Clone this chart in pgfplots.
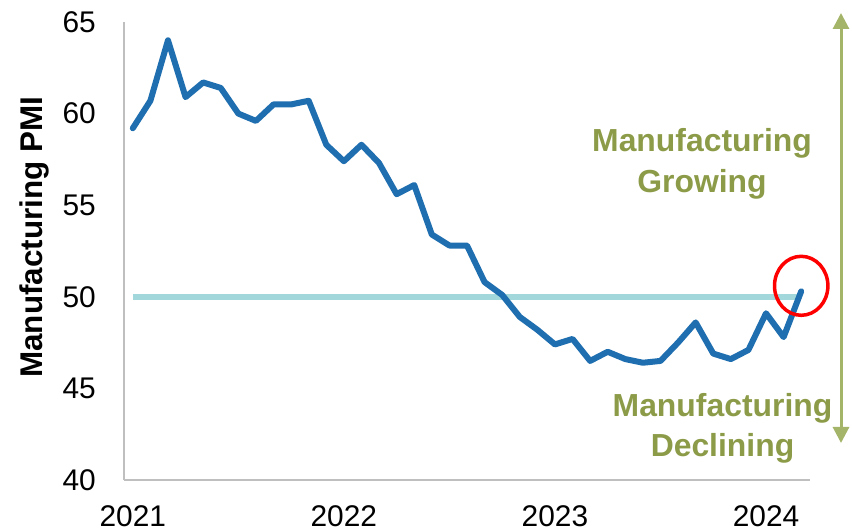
\documentclass[border=0pt]{standalone}
\usepackage{fontspec}
\setmainfont{Liberation Sans}
\usepackage{pgfplots}
\pgfplotsset{compat=1.18}
\usetikzlibrary{arrows.meta}

\definecolor{pmiblue}{RGB}{30,110,176}
\definecolor{reflinecol}{RGB}{162,216,219}
\definecolor{axisgray}{RGB}{191,191,191}
\definecolor{arrowgreen}{RGB}{164,181,105}
\definecolor{textgreen}{RGB}{139,155,72}

% monthly ISM manufacturing PMI, Jan 2021 = 0
\pgfplotstableread{
m pmi
0 59.2
1 60.7
2 64.0
3 60.9
4 61.7
5 61.4
6 60.0
7 59.6
8 60.5
9 60.5
10 60.7
11 58.3
12 57.4
13 58.3
14 57.3
15 55.6
16 56.1
17 53.4
18 52.8
19 52.8
20 50.8
21 50.1
22 48.9
23 48.2
24 47.4
25 47.7
26 46.5
27 47.0
28 46.6
29 46.4
30 46.5
31 47.5
32 48.6
33 46.9
34 46.6
35 47.1
36 49.1
37 47.8
38 50.3
}\pmidata

\begin{document}
\begin{tikzpicture}
\begin{axis}[
    at={(0,0)}, anchor=south west,
    scale only axis,
    width=686bp, height=458bp,
    xmin=-0.5, xmax=38.5,
    ymin=40, ymax=65,
    axis x line=bottom, axis y line=left,
    axis line style={draw=axisgray, line width=1.3bp, -},
    xtick={0,12,24,36},
    xticklabels={2021,2022,2023,2024},
    ytick={40,45,...,65},
    major tick length=0pt,
    /pgf/number format/assume math mode=true,
    tick label style={font=\fontsize{30}{35}\selectfont, inner sep=0pt},
    xticklabel style={anchor=north, yshift=-25bp},
    yticklabel style={anchor=east, xshift=-28bp},
    ylabel={Manufacturing PMI},
    ylabel style={font=\bfseries\fontsize{31.5}{36}\selectfont,
        at={(axis description cs:-0.13,0.53)}, anchor=center},
    clip=false,
]
\addplot[reflinecol, line width=6bp] coordinates {(0,50) (38,50)};
\addplot[pmiblue, line width=6bp, line join=round, line cap=round] table[x=m, y=pmi] {\pmidata};
\draw[red, line width=3.5bp] (axis cs:38,50.6) ellipse [x radius=26.7bp, y radius=29.5bp];
\end{axis}

\draw[arrowgreen, line width=3bp,
    {Triangle[width=16bp,length=16bp]}-{Triangle[width=16bp,length=16bp]}]
    (717bp,467bp) -- (717bp,37bp);
\begin{scope}[every node/.style={anchor=base, text=textgreen, inner sep=0pt,
    font=\bfseries\fontsize{32}{36}\selectfont}]
\node at (578bp,328.3bp) {Manufacturing};
\node at (578bp,287bp) {Growing};
\node at (598.5bp,63.3bp) {Manufacturing};
\node at (598.5bp,23.3bp) {Declining};
\end{scope}

\pgfresetboundingbox
\path (-124bp,-52bp) rectangle (728bp,480bp);
\end{tikzpicture}
\end{document}
